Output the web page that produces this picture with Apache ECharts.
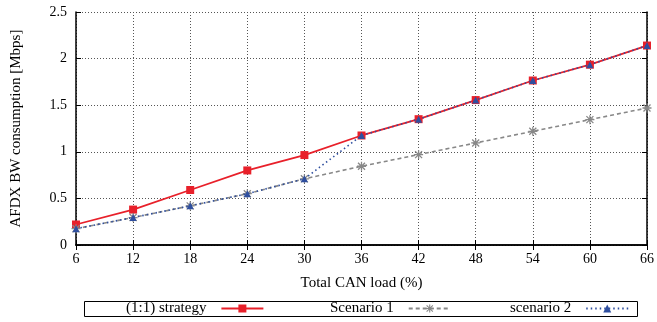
<!DOCTYPE html>
<html>
<head>
<meta charset="utf-8">
<script src="https://cdn.jsdelivr.net/npm/echarts@6/dist/echarts.min.js"></script>
<style>
  html, body { margin: 0; padding: 0; background: #fff; }
  #chart { width: 657px; height: 322px; }
</style>
</head>
<body>
<div id="chart"></div>
<script>
// Total CAN load (%) on the x axis
const canLoad = ['6', '12', '18', '24', '30', '36', '42', '48', '54', '60', '66'];
// AFDX bandwidth consumption in Mbps
const strategy11 = [0.22, 0.38, 0.59, 0.80, 0.965, 1.175, 1.35, 1.555, 1.765, 1.935, 2.14];
const scenario1  = [0.175, 0.295, 0.42, 0.55, 0.71, 0.845, 0.97, 1.095, 1.22, 1.345, 1.47];
const scenario2  = [0.175, 0.295, 0.42, 0.55, 0.71, 1.175, 1.35, 1.555, 1.765, 1.935, 2.14];
const yTicks = [0, 0.5, 1, 1.5, 2, 2.5];

const serif = 'Liberation Serif';
const asterisk = 'path://M4.3 0H5.7V10H4.3Z M0 4.3H10V5.7H0Z M0.6 1.6L1.6 0.6L9.4 8.4L8.4 9.4Z M8.4 0.6L9.4 1.6L1.6 9.4L0.6 8.4Z';

const chart = echarts.init(document.getElementById('chart'));

function legendAt(name, left) {
  return {
    data: [name],
    left: left,
    top: 301,
    align: 'right',
    itemWidth: 42,
    itemHeight: 10,
    itemGap: 0,
    padding: 0,
    textStyle: { fontFamily: serif, fontSize: 15, color: '#000', padding: [0, 10, 0, 0] },
    selectedMode: false
  };
}

chart.setOption({
  animation: false,
  backgroundColor: '#fff',
  grid: { left: 76, right: 8, top: 12, bottom: 77 },
  graphic: [{
    type: 'rect',
    shape: { x: 84.5, y: 301.5, width: 553, height: 15 },
    style: { fill: 'none', stroke: '#000', lineWidth: 1 },
    z: 0
  }],
  legend: [
    legendAt('(1:1) strategy', 126),
    legendAt('Scenario 1', 330),
    legendAt('scenario 2', 510)
  ],
  xAxis: [{
    type: 'category',
    data: canLoad,
    boundaryGap: false,
    name: 'Total CAN load (%)',
    nameLocation: 'middle',
    nameGap: 31,
    nameTextStyle: { fontFamily: serif, fontSize: 15, color: '#000' },
    axisLine: { lineStyle: { color: '#000', width: 1.5 } },
    axisTick: { inside: true, length: 5, lineStyle: { color: '#000' } },
    axisLabel: { fontFamily: serif, fontSize: 14, color: '#000', margin: 7 },
    splitLine: { show: true, lineStyle: { color: '#555', type: [1, 2], width: 1 } }
  }, {
    type: 'category',
    data: canLoad,
    boundaryGap: false,
    position: 'top',
    axisLine: { lineStyle: { color: '#000', width: 1.5 } },
    axisTick: { inside: true, length: 5, lineStyle: { color: '#000' } },
    axisLabel: { show: false },
    splitLine: { show: false }
  }],
  yAxis: [{
    type: 'value',
    min: yTicks[0],
    max: yTicks[yTicks.length - 1],
    interval: 0.5,
    name: 'AFDX BW consumption [Mbps]',
    nameLocation: 'middle',
    nameGap: 52,
    nameTextStyle: { fontFamily: serif, fontSize: 15, color: '#000' },
    axisLine: { show: true, lineStyle: { color: '#000', width: 1.5 } },
    axisTick: { show: true, inside: true, length: 5, lineStyle: { color: '#000' } },
    axisLabel: { fontFamily: serif, fontSize: 14, color: '#000', margin: 9 },
    splitLine: { show: true, lineStyle: { color: '#555', type: [1, 2], width: 1 } }
  }, {
    type: 'value',
    min: yTicks[0],
    max: yTicks[yTicks.length - 1],
    interval: 0.5,
    position: 'right',
    axisLine: { show: true, lineStyle: { color: '#000', width: 1.5 } },
    axisTick: { show: true, inside: true, length: 5, lineStyle: { color: '#000' } },
    axisLabel: { show: false },
    splitLine: { show: false }
  }],
  series: [{
    name: '(1:1) strategy',
    type: 'line',
    data: strategy11,
    symbol: 'rect',
    symbolSize: 8,
    lineStyle: { color: '#e8202a', width: 1.8 },
    itemStyle: { color: '#e8202a' },
    z: 2
  }, {
    name: 'Scenario 1',
    type: 'line',
    data: scenario1,
    symbol: asterisk,
    symbolSize: 9,
    lineStyle: { color: '#888', width: 1.6, type: [4, 3] },
    itemStyle: { color: '#888' },
    z: 3
  }, {
    name: 'scenario 2',
    type: 'line',
    data: scenario2,
    symbol: 'triangle',
    symbolSize: 7,
    lineStyle: { color: '#2f4f9f', width: 1.6, type: [1.5, 3] },
    itemStyle: { color: '#2f4f9f' },
    z: 4
  }]
});
</script>
</body>
</html>
